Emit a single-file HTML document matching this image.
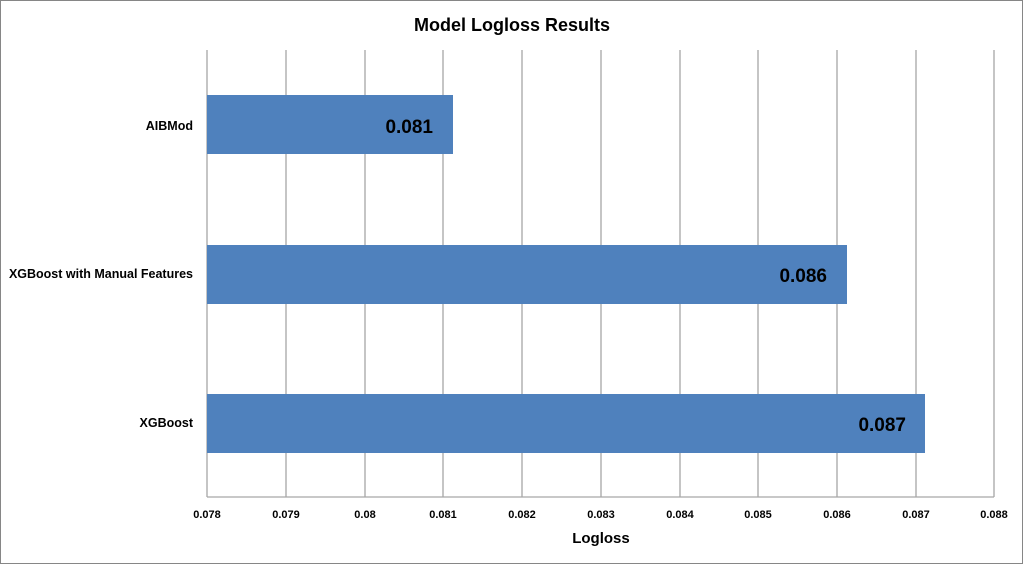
<!DOCTYPE html>
<html><head><style>html,body{margin:0;padding:0;background:#fff}svg{display:block}</style></head><body>
<svg width="1024" height="565" xmlns="http://www.w3.org/2000/svg" font-family="Liberation Sans, sans-serif" font-weight="bold">
<rect x="0.5" y="0.5" width="1022" height="563" fill="#fff" stroke="#868686" stroke-width="1"/>
<text x="512" y="31" text-anchor="middle" font-size="18" fill="#000">Model Logloss Results</text>
<g stroke="#a6a6a6" stroke-width="1.3">
<line x1="286" y1="50" x2="286" y2="497"/><line x1="365" y1="50" x2="365" y2="497"/><line x1="443" y1="50" x2="443" y2="497"/><line x1="522" y1="50" x2="522" y2="497"/><line x1="601" y1="50" x2="601" y2="497"/><line x1="680" y1="50" x2="680" y2="497"/><line x1="758" y1="50" x2="758" y2="497"/><line x1="837" y1="50" x2="837" y2="497"/><line x1="916" y1="50" x2="916" y2="497"/><line x1="994" y1="50" x2="994" y2="497"/>
<line x1="207" y1="50" x2="207" y2="497"/><line x1="207" y1="497" x2="994" y2="497"/>
</g>
<g fill="#4f81bd">
<rect x="207" y="95" width="246" height="59"/>
<rect x="207" y="245" width="640" height="59"/>
<rect x="207" y="394" width="718" height="59"/>
</g>
<g font-size="19" fill="#000" text-anchor="end">
<text x="433" y="133">0.081</text><text x="827" y="282">0.086</text><text x="906" y="431">0.087</text>
</g>
<g font-size="12.5" fill="#000" text-anchor="end">
<text x="193" y="130">AIBMod</text><text x="193" y="278">XGBoost with Manual Features</text><text x="193" y="427">XGBoost</text>
</g>
<g font-size="11" fill="#000" text-anchor="middle">
<text x="207" y="518">0.078</text><text x="286" y="518">0.079</text><text x="365" y="518">0.08</text><text x="443" y="518">0.081</text><text x="522" y="518">0.082</text><text x="601" y="518">0.083</text><text x="680" y="518">0.084</text><text x="758" y="518">0.085</text><text x="837" y="518">0.086</text><text x="916" y="518">0.087</text><text x="994" y="518">0.088</text>
</g>
<text x="601" y="543" text-anchor="middle" font-size="15" fill="#000">Logloss</text>
</svg>
</body></html>
